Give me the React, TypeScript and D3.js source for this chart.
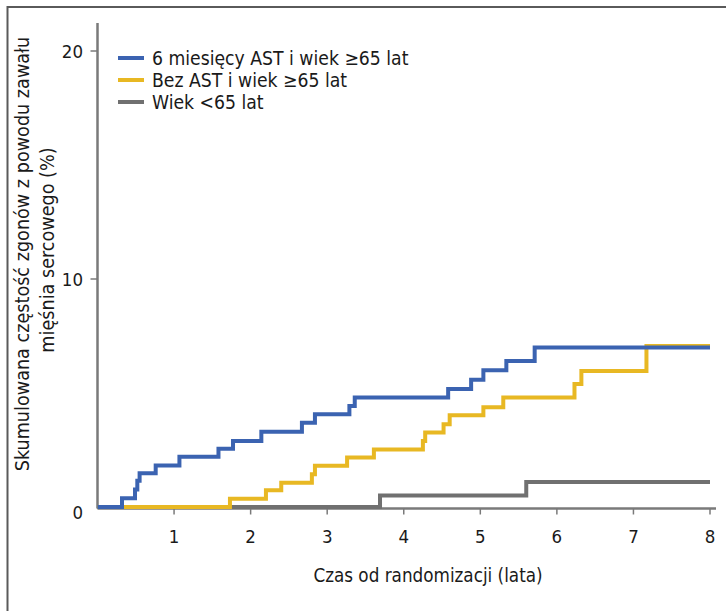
import React from "react";
import * as d3 from "d3";

// Kaplan–Meier style cumulative mortality (%)
const blueTimes = [0, 0.32, 0.49, 0.52, 0.55, 0.76, 1.07, 1.58, 1.77, 2.14, 2.67, 2.84, 3.29, 3.36, 4.58, 4.88, 5.04, 5.34, 5.71, 8.0];
const blueValues = [0, 0.38, 0.77, 1.15, 1.48, 1.82, 2.2, 2.55, 2.9, 3.3, 3.7, 4.07, 4.43, 4.8, 5.18, 5.58, 6.0, 6.4, 7.0, 7.0];

const yellowTimes = [0, 1.73, 2.2, 2.4, 2.8, 2.84, 3.26, 3.61, 4.25, 4.28, 4.52, 4.6, 5.04, 5.3, 6.23, 6.32, 7.17, 8.0];
const yellowValues = [0, 0.36, 0.73, 1.06, 1.44, 1.81, 2.17, 2.52, 2.9, 3.27, 3.63, 4.02, 4.38, 4.8, 5.4, 5.96, 7.06, 7.06];

const grayTimes = [0, 3.69, 5.6, 8.0];
const grayValues = [0, 0.5, 1.1, 1.1];

const seriesNames = ["6 miesięcy AST i wiek ≥65 lat", "Bez AST i wiek ≥65 lat", "Wiek <65 lat"];
const seriesColors = ["#3b63b1", "#e8b823", "#707070"];

const xTicks = [1, 2, 3, 4, 5, 6, 7, 8];
const yTicks = [0, 10, 20];

const xTitle = "Czas od randomizacji (lata)";
const yTitle1 = "Skumulowana częstość zgonów z powodu zawału";
const yTitle2 = "mięśnia sercowego (%)";

const FONT = "'DejaVu Sans Condensed', 'Liberation Sans Narrow', sans-serif";

export default function App() {
  const x = d3.scaleLinear().domain([0, 8]).range([97.5, 710]);
  const y = d3.scaleLinear().domain([0, 20]).range([507, 51]);

  const line = d3
    .line<[number, number]>()
    .x((d) => x(d[0]))
    .y((d) => y(d[1]))
    .curve(d3.curveStepAfter);

  const toPts = (ts: number[], vs: number[]) => ts.map((t, i) => [t, vs[i]] as [number, number]);

  const series = [
    toPts(blueTimes, blueValues),
    toPts(yellowTimes, yellowValues),
    toPts(grayTimes, grayValues),
  ];
  const drawOrder = [2, 1, 0];

  const axisColor = "#7a7a7a";
  const x0 = x(0);
  const yBase = y(0) + 1.5;

  return (
    <svg
      width={726}
      height={611}
      style={{ position: "absolute", left: 0, top: 0, background: "#fff" }}
      fontFamily={FONT}
    >
      <rect x={7.5} y={7} width={740} height={640} fill="#fff" stroke="#5a5a5a" strokeWidth={2} />

      {/* axes */}
      <line x1={x0} x2={x0} y1={23} y2={yBase} stroke={axisColor} strokeWidth={2.5} />
      <line x1={x0} x2={716} y1={yBase} y2={yBase} stroke={axisColor} strokeWidth={2.5} />

      {xTicks.map((t) => (
        <g key={"xt" + t}>
          <line x1={x(t)} x2={x(t)} y1={yBase} y2={yBase + 6} stroke={axisColor} strokeWidth={1.5} />
          <text x={x(t)} y={543} textAnchor="middle" fontSize={18.5} fill="#1a1a1a">
            {t}
          </text>
        </g>
      ))}
      {yTicks.map((v) => (
        <g key={"yt" + v}>
          {v > 0 && (
            <line x1={x0 - 7} x2={x0} y1={y(v)} y2={y(v)} stroke={axisColor} strokeWidth={1.5} />
          )}
          <text x={83} y={y(v) + (v === 0 ? 5 : 0)} dy="0.36em" textAnchor="end" fontSize={18.5} fill="#1a1a1a">
            {v}
          </text>
        </g>
      ))}

      {/* curves */}
      {drawOrder.map((i) => (
        <path
          key={"s" + i}
          d={line(series[i]) || ""}
          fill="none"
          stroke={seriesColors[i]}
          strokeWidth={4}
          strokeLinejoin="miter"
        />
      ))}

      {/* legend */}
      {seriesNames.map((name, i) => (
        <g key={"lg" + i}>
          <line x1={118} x2={144} y1={58 + i * 22} y2={58 + i * 22} stroke={seriesColors[i]} strokeWidth={4} />
          <text x={152} y={58 + i * 22} dy="0.36em" fontSize={19.2} fill="#1a1a1a">
            {name}
          </text>
        </g>
      ))}

      {/* titles */}
      <text x={428} y={582} textAnchor="middle" fontSize={18.7} fill="#1a1a1a">
        {xTitle}
      </text>
      <text
        transform={`translate(22,254) rotate(-90)`}
        textAnchor="middle"
        dy="0.36em"
        fontSize={19.6}
        fill="#1a1a1a"
      >
        {yTitle1}
      </text>
      <text
        transform={`translate(47,250) rotate(-90)`}
        textAnchor="middle"
        dy="0.36em"
        fontSize={19.6}
        fill="#1a1a1a"
      >
        {yTitle2}
      </text>
    </svg>
  );
}
